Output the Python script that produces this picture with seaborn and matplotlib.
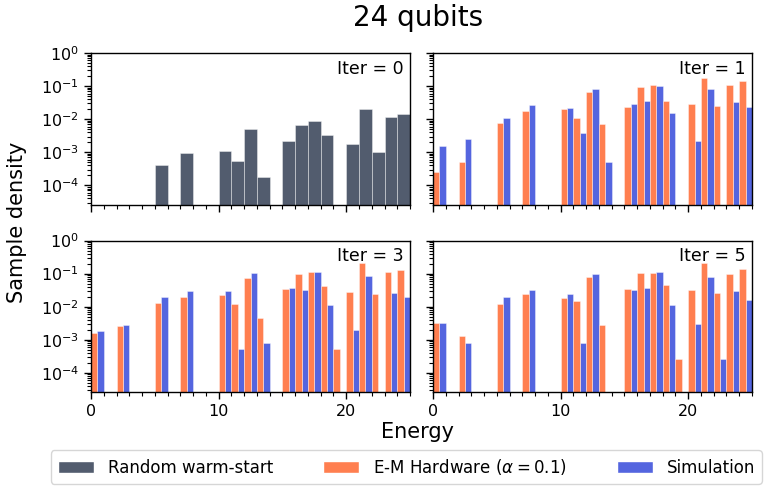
import numpy as np
import pandas as pd
import matplotlib
matplotlib.use("Agg")
import matplotlib.pyplot as plt
import seaborn as sns
from matplotlib.patches import Patch
from matplotlib.ticker import MultipleLocator, LogLocator, NullFormatter

# Energy levels (left edge of each unit-width bin) and sample densities
energies = [0, 2, 5, 7, 10, 11, 12, 13, 15, 16, 17, 18, 19, 20, 21, 22, 23, 24]

warm_start = [0, 0, 4.1e-4, 9.8e-4, 1.07e-3, 5.6e-4, 5.0e-3, 1.78e-4, 2.2e-3,
              6.7e-3, 8.7e-3, 3.3e-3, 0, 1.8e-3, 0.020, 1.0e-3, 0.0118, 0.0145]

hw_iter1 = [2.5e-4, 5.1e-4, 7.6e-3, 0.0178, 0.020, 0.011, 0.069, 7.2e-3, 0.023,
            0.095, 0.105, 0.035, 0, 0.028, 0.18, 0.026, 0.105, 0.14]
sim_iter1 = [1.5e-3, 2.5e-3, 0.0107, 0.0277, 0.0223, 3.8e-3, 0.085, 5.1e-4, 0.029,
             0.036, 0.10, 0.015, 0, 2.2e-3, 0.085, 0, 0.034, 0.023]

hw_iter3 = [1.6e-3, 2.6e-3, 0.0129, 0.020, 0.022, 0.012, 0.076, 4.7e-3, 0.035,
            0.10, 0.11, 0.041, 5.2e-4, 0.028, 0.21, 0.024, 0.112, 0.129]
sim_iter3 = [1.8e-3, 2.8e-3, 0.0196, 0.0296, 0.030, 5.1e-4, 0.102, 7.8e-4, 0.038,
             0.033, 0.11, 0.0115, 0, 2.0e-3, 0.087, 0, 0.026, 0.0196]

hw_iter5 = [3.1e-3, 1.3e-3, 0.0123, 0.0235, 0.0178, 0.015, 0.081, 2.8e-3, 0.034,
            0.107, 0.107, 0.044, 2.6e-4, 0.032, 0.21, 0.026, 0.10, 0.135]
sim_iter5 = [3.2e-3, 7.9e-4, 0.019, 0.032, 0.0246, 7.9e-4, 0.10, 0, 0.031,
             0.037, 0.11, 0.011, 0, 2.9e-3, 0.081, 2.6e-4, 0.030, 0.016]

labels = ["Random warm-start", r"E-M Hardware ($\alpha = 0.1$)", "Simulation"]
colors = ["#525c6e", "#ff7f50", "#5465df"]

sns.set_style("ticks", {"text.color": "black", "axes.labelcolor": "black",
                        "xtick.color": "black", "ytick.color": "black",
                        "axes.edgecolor": "black"})

fig, axes = plt.subplots(2, 2, figsize=(7.65, 4.92), dpi=100, sharex=True, sharey=True)
fig.subplots_adjust(left=0.119, right=0.983, top=0.892, bottom=0.203,
                    wspace=0.072, hspace=0.237)

edge = (1, 1, 1, 0.45)

# Iter 0: random warm-start
ws = pd.DataFrame({"energy": [e + 0.5 for e in energies], "density": warm_start})
sns.histplot(data=ws, x="energy", weights="density", binwidth=1, binrange=(0, 25),
             color=colors[0], alpha=1, edgecolor=edge, linewidth=0.6, ax=axes[0, 0])

panels = [(axes[0, 1], hw_iter1, sim_iter1),
          (axes[1, 0], hw_iter3, sim_iter3),
          (axes[1, 1], hw_iter5, sim_iter5)]

for ax, hw, sim in panels:
    df = pd.DataFrame({
        "energy": [e + 0.5 for e in energies] * 2,
        "density": hw + sim,
        "source": ["hw"] * len(energies) + ["sim"] * len(energies),
    })
    sns.histplot(data=df, x="energy", weights="density", hue="source",
                 hue_order=["hw", "sim"], palette=colors[1:], multiple="dodge",
                 binwidth=1, binrange=(0, 25), shrink=1, alpha=1, edgecolor=edge,
                 linewidth=0.6, legend=False, ax=ax)

for ax, it in zip(axes.flat, [0, 1, 3, 5]):
    ax.set_yscale("log")
    ax.set_ylim(2.6e-5, 1)
    ax.set_xlim(0, 25)
    ax.yaxis.set_major_locator(LogLocator(base=10, numticks=12))
    ax.yaxis.set_minor_locator(LogLocator(base=10, subs=np.arange(2, 10), numticks=12))
    ax.yaxis.set_minor_formatter(NullFormatter())
    ax.xaxis.set_major_locator(MultipleLocator(10))
    ax.xaxis.set_minor_locator(MultipleLocator(1))
    ax.set_xlabel("")
    ax.set_ylabel("")
    ax.tick_params(which="major", direction="out", length=5, width=1,
                   color="black", labelsize=11.5)
    ax.tick_params(which="minor", direction="out", length=3, width=0.8, color="black")
    ax.text(0.98, 0.955, f"Iter = {it}", transform=ax.transAxes,
            ha="right", va="top", fontsize=12.5)
    for s in ax.spines.values():
        s.set_color("black")
        s.set_linewidth(1)

fig.text(0.546, 0.963, "24 qubits", ha="center", va="center", fontsize=20)
fig.text(0.546, 0.122, "Energy", ha="center", va="center", fontsize=15)
fig.text(0.022, 0.548, "Sample density", ha="center", va="center",
         rotation=90, fontsize=15)

handles = [Patch(facecolor=c) for c in colors]
fig.legend(handles, labels, loc="center", bbox_to_anchor=(0.531, 0.051), ncol=3,
           fontsize=12, handlelength=2.2, columnspacing=3.0, frameon=True)

fig.savefig("out.png", dpi=100)
